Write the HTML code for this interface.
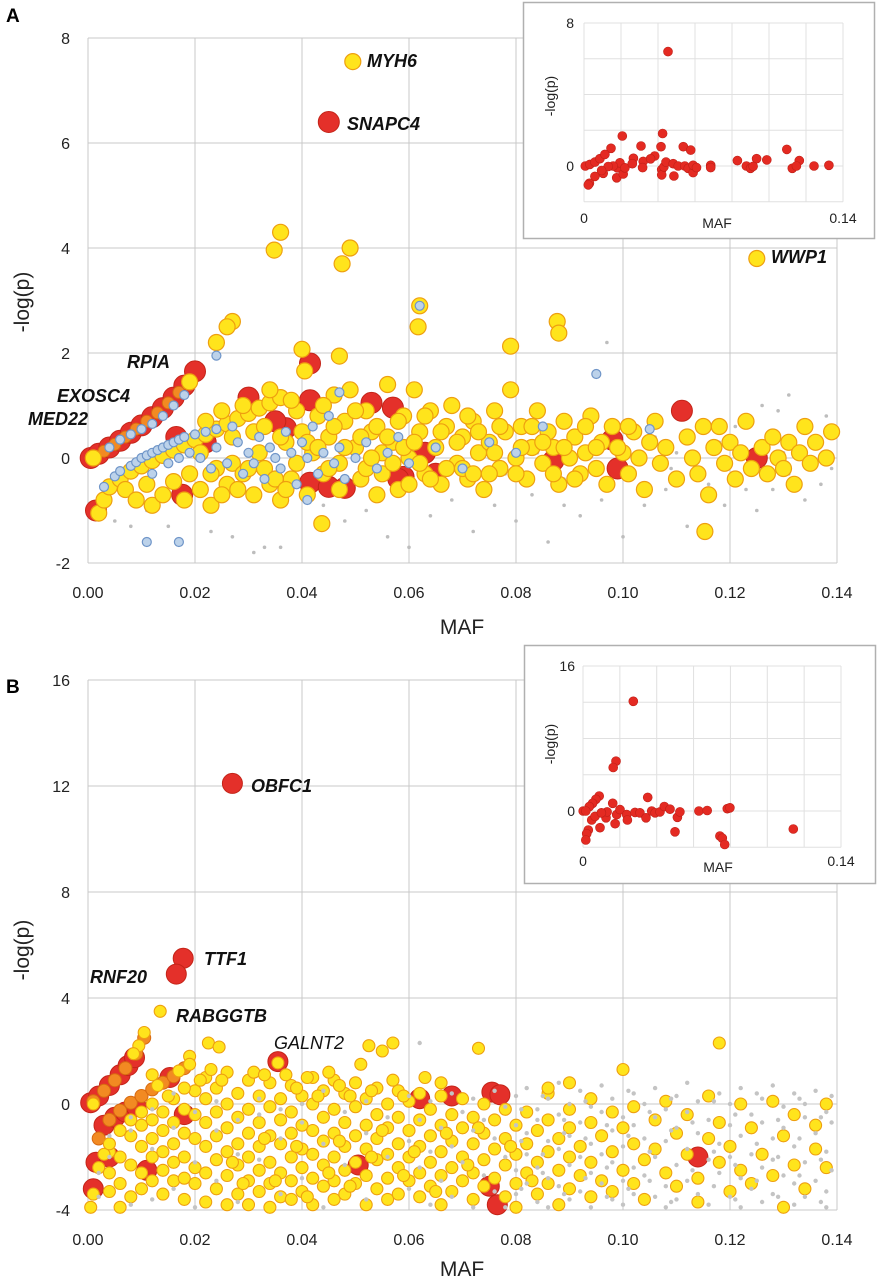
<!DOCTYPE html>
<html><head><meta charset="utf-8">
<style>
html,body{margin:0;padding:0;background:#fff;}
svg{display:block;font-family:"Liberation Sans",sans-serif;}
.tk{font-size:16px;fill:#222;}
.ttl{font-size:21px;fill:#222;}
.itk{font-size:14px;fill:#222;}
.gene{font-size:18px;font-weight:bold;font-style:italic;fill:#111;}
</style></head>
<body>
<svg id="fig" width="879" height="1280" viewBox="0 0 879 1280" xmlns="http://www.w3.org/2000/svg">
<text x="6" y="22" font-size="19" font-weight="bold">A</text>
<text x="6" y="693" font-size="19" font-weight="bold">B</text>
<g id="gA"></g>
<g id="gB"></g>
<g id="gAi"></g>
<g id="gBi"></g>
</svg>
<script>
// ---------- Panel A data ----------
const xTicksMain = ["0.00","0.02","0.04","0.06","0.08","0.10","0.12","0.14"];
const yTicksA = [-2,0,2,4,6,8];
const yTicksB = [-4,0,4,8,12,16];
const grayA = [[0.005,-1.2],[0.008,-1.3],[0.011,-1.0],[0.015,-1.3],[0.019,-0.8],[0.023,-1.4],[0.027,-1.5],[0.031,-1.8],[0.033,-1.7],[0.036,-1.7],[0.040,-0.6],[0.044,-0.9],[0.048,-1.2],[0.052,-1.0],[0.056,-1.5],[0.060,-1.7],[0.064,-1.1],[0.068,-0.8],[0.072,-1.4],[0.076,-0.9],[0.080,-1.2],[0.083,-0.7],[0.086,-1.6],[0.089,-0.9],[0.092,-1.1],[0.096,-0.8],[0.100,-1.5],[0.104,-0.9],[0.108,-0.6],[0.112,-1.3],[0.116,-0.5],[0.119,-0.9],[0.122,-0.4],[0.125,-1.0],[0.128,-0.6],[0.131,-0.3],[0.134,-0.8],[0.137,-0.5],[0.139,-0.2],[0.084,0.1],[0.088,0.3],[0.092,-0.2],[0.098,0.2],[0.102,-0.3],[0.106,0.4],[0.110,0.1],[0.114,-0.2],[0.118,0.3],[0.121,0.6],[0.124,0.0],[0.127,0.4],[0.130,0.1],[0.133,0.6],[0.136,0.2],[0.138,0.8],[0.129,0.9],[0.126,1.0],[0.131,1.2],[0.097,2.2],[0.075,0.0],[0.078,-0.3],[0.089,-0.4],[0.115,0.5],[0.123,-0.6],[0.109,-0.2]];
const redA = [[0.045,6.4],[0.020,1.65],[0.0415,1.8],[0.0415,1.1],[0.0415,-0.47],[0.037,0.57],[0.053,1.05],[0.057,0.96],[0.048,-0.57],[0.059,-0.36],[0.030,1.15],[0.0176,-0.7],[0.0015,-1.0],[0.045,-0.55],[0.058,-0.4],[0.111,0.9],[0.098,0.35],[0.099,-0.2],[0.087,-0.05],[0.125,0.0],[0.065,-0.3],[0.0165,0.4],[0.022,0.3],[0.063,0.1],[0.035,0.7],
 [0.0005,0],[0.002,0.08],[0.004,0.2],[0.006,0.33],[0.008,0.48],[0.010,0.62],[0.012,0.78],[0.014,0.95],[0.016,1.15],[0.018,1.38]];
const orangeA = [[0.001,0.02],[0.003,0.13],[0.005,0.26],[0.007,0.4],[0.009,0.55],[0.011,0.7],[0.013,0.86],[0.015,1.05],[0.017,1.25]];
const yellowA = [[0.0495,7.55],[0.0348,3.96],[0.036,4.3],[0.0475,3.7],[0.049,4.0],[0.062,2.9],[0.0617,2.5],[0.125,3.8],[0.079,2.13],[0.0877,2.6],[0.088,2.38],[0.027,2.6],[0.026,2.5],[0.024,2.2],[0.040,2.07],[0.0405,1.66],[0.047,1.94],[0.0437,-1.25],[0.1153,-1.4],
 [0.001,0.0],[0.019,1.45],
 [0.002,-1.05],[0.003,-0.8],[0.004,-0.55],[0.006,-0.4],[0.008,-0.25],[0.010,-0.15],[0.012,-0.05],[0.014,0.05],[0.016,0.15],[0.018,0.25],[0.020,0.35],[0.022,0.45],[0.024,0.55],[0.026,0.65],[0.028,0.75],[0.030,0.85],[0.032,0.95],[0.034,1.05],[0.036,1.15],
 [0.007,-0.6],[0.009,-0.8],[0.011,-0.5],[0.012,-0.9],[0.014,-0.7],[0.016,-0.45],[0.018,-0.8],[0.019,-0.3],[0.021,-0.6],[0.023,-0.9],[0.024,-0.2],[0.026,-0.5],[0.027,-0.1],[0.029,-0.3],[0.031,-0.7],[0.032,0.1],[0.033,-0.2],[0.034,-0.5],[0.036,-0.8],[0.037,0.3],[0.038,-0.4],[0.039,0.9],[0.040,0.5],[0.042,0.1],[0.043,0.8],[0.044,-0.3],[0.045,0.4],[0.046,1.2],[0.047,-0.1],[0.048,0.7],[0.049,1.3],[0.050,0.2],[0.051,-0.4],[0.052,0.9],[0.053,0.5],[0.054,-0.7],[0.055,0.1],[0.056,1.4],[0.057,0.3],[0.058,-0.6],[0.059,0.8],[0.060,0.0],[0.061,1.3],[0.062,0.5],[0.063,-0.3],[0.064,0.9],[0.065,0.2],[0.066,-0.5],[0.067,0.6],[0.068,1.0],[0.069,-0.1],[0.070,0.4],[0.071,-0.4],[0.072,0.7],[0.073,0.1],[0.074,-0.6],[0.075,0.3],[0.076,0.9],[0.077,-0.2],[0.078,0.5],[0.079,1.3],[0.080,0.0],[0.081,0.6],[0.082,-0.4],[0.083,0.2],[0.084,0.9],[0.085,-0.1],[0.086,0.5],[0.087,0.2],[0.088,-0.5],[0.089,0.7],[0.090,0.0],[0.091,0.4],[0.092,-0.3],[0.093,0.1],[0.094,0.8],[0.095,-0.2],[0.096,0.3],[0.097,-0.5],[0.098,0.6],[0.100,0.1],[0.101,-0.3],[0.102,0.5],[0.103,0.0],[0.104,-0.6],[0.105,0.3],[0.106,0.7],[0.107,-0.1],[0.108,0.2],[0.110,-0.4],[0.112,0.4],[0.113,0.0],[0.114,-0.3],[0.115,0.6],[0.116,-0.7],[0.117,0.2],[0.118,0.6],[0.119,-0.1],[0.120,0.3],[0.121,-0.4],[0.122,0.1],[0.123,0.7],[0.124,-0.2],[0.126,0.2],[0.127,-0.3],[0.128,0.4],[0.129,0.0],[0.130,-0.2],[0.131,0.3],[0.132,-0.5],[0.133,0.1],[0.134,0.6],[0.135,-0.1],[0.136,0.3],[0.138,0.0],[0.139,0.5],
 [0.021,0.1],[0.022,0.7],[0.023,-0.3],[0.025,0.9],[0.025,-0.7],[0.027,0.4],[0.028,-0.6],[0.029,1.0],[0.030,-0.2],[0.031,0.5],[0.033,0.6],[0.034,1.3],[0.035,-0.4],[0.036,0.4],[0.037,-0.6],[0.038,1.1],[0.039,-0.1],[0.041,0.3],[0.041,-0.7],[0.043,0.2],[0.044,1.0],[0.045,-0.2],[0.046,0.6],[0.047,-0.6],[0.048,0.2],[0.050,0.9],[0.051,0.4],[0.052,-0.2],[0.053,0.0],[0.054,0.6],[0.055,-0.3],[0.056,0.4],[0.057,-0.1],[0.058,0.7],[0.059,0.2],[0.060,-0.5],[0.061,0.3],[0.062,-0.1],[0.063,0.8],[0.064,-0.4],[0.066,0.5],[0.067,-0.2],[0.069,0.3],[0.070,-0.2],[0.071,0.8],[0.072,-0.3],[0.073,0.5],[0.075,-0.3],[0.076,0.1],[0.077,0.6],[0.080,-0.3],[0.081,0.2],[0.083,0.6],[0.085,0.3],[0.087,-0.3],[0.089,0.2],[0.091,-0.4],[0.093,0.6],[0.095,0.2],[0.099,0.2],[0.101,0.6]];
const blueA = [[0.003,-0.55],[0.005,-0.35],[0.006,-0.25],[0.008,-0.15],[0.009,-0.08],[0.010,0.0],[0.011,0.05],[0.012,0.1],[0.013,0.15],[0.014,0.2],[0.015,0.25],[0.016,0.3],[0.017,0.35],[0.018,0.4],[0.020,0.45],[0.022,0.5],[0.024,0.55],[0.027,0.6],[0.006,0.35],[0.008,0.45],[0.010,0.55],[0.012,0.65],[0.014,0.8],[0.016,1.0],[0.018,1.2],[0.004,0.2],[0.012,-0.3],[0.015,-0.1],[0.017,0.0],[0.019,0.1],[0.021,0.0],[0.023,-0.2],[0.024,0.2],[0.026,-0.1],[0.028,0.3],[0.029,-0.3],[0.030,0.1],[0.031,-0.1],[0.032,0.4],[0.033,-0.4],[0.034,0.2],[0.035,0.0],[0.036,-0.2],[0.037,0.5],[0.038,0.1],[0.039,-0.5],[0.040,0.3],[0.041,0.0],[0.042,0.6],[0.043,-0.3],[0.044,0.1],[0.045,0.8],[0.046,-0.1],[0.047,0.2],[0.048,-0.4],[0.050,0.0],[0.052,0.3],[0.054,-0.2],[0.056,0.1],[0.058,0.4],[0.060,-0.1],[0.062,2.9],[0.065,0.2],[0.070,-0.2],[0.075,0.3],[0.080,0.1],[0.085,0.6],[0.095,1.6],[0.105,0.55],[0.024,1.95],[0.011,-1.6],[0.017,-1.6],[0.041,-0.8],[0.047,1.25]];
const insetAx = [0.0454,0.0207,0.0425,0.0416,0.0308,0.0146,0.0537,0.0577,0.0382,0.0267,0.1096,0.0933,0.0988,0.0829,0.1164,0.0007,0.0032,0.0059,0.0086,0.0113,0.0104,0.0059,0.0029,0.0023,0.0177,0.0180,0.0194,0.0212,0.0158,0.0131,0.0095,0.0221,0.0261,0.0320,0.0317,0.0360,0.0420,0.0420,0.0432,0.0443,0.0482,0.0486,0.0509,0.0545,0.0563,0.0590,0.0590,0.0608,0.0685,0.0685,0.0878,0.0900,0.0914,0.1126,0.1148,0.1243,0.1324];
const insetAy = [6.4,1.68,1.82,1.08,1.12,0.99,1.08,0.89,0.56,0.43,0.93,0.41,0.34,0.30,0.30,0.0,0.09,0.22,0.41,0.65,-0.41,-0.58,-0.97,-1.06,-0.66,-0.1,0.18,-0.45,0.0,-0.03,-0.25,-0.1,0.13,0.26,-0.09,0.4,-0.2,-0.5,-0.05,0.22,0.13,-0.56,0.0,0.0,-0.13,-0.37,0.04,-0.09,0.04,-0.09,0.0,-0.13,-0.02,-0.13,0.0,0.0,0.04];
// ---------- Panel B data ----------
const redB = [[0.027,12.1],[0.0178,5.5],[0.0165,4.9],[0.0355,1.6],[0.0755,0.45],[0.077,0.35],[0.062,0.2],[0.068,0.3],[0.0505,-2.3],[0.114,-2.0],[0.075,-3.1],[0.0765,-3.8],[0.0015,-2.2],[0.001,-3.2],[0.018,-0.4],[0.0153,1.0],
 [0.0005,0.05],[0.002,0.3],[0.004,0.7],[0.006,1.1],[0.0075,1.45],[0.0087,1.75],[0.003,-0.8],[0.005,-0.5],[0.007,-0.3],[0.009,-0.1],[0.011,-2.5],[0.004,-2.0]];
const orangeB = [[0.001,0.1],[0.003,0.5],[0.005,0.9],[0.007,1.35],[0.009,1.9],[0.0105,2.5],[0.002,-1.3],[0.004,-0.6],[0.006,-0.25],[0.008,0.05],[0.010,0.3],[0.012,0.55],[0.014,0.8],[0.016,1.05],[0.018,1.35]];
const yellowBcols = [[0.004,[-1.8,-2.6,-3.3]],[0.006,[-2.0,-3.0,-3.9]],[0.008,[-1.2,-2.3,-3.5]],[0.010,[-0.8,-1.6,-2.6,-3.2]],[0.012,[-0.6,-1.3,-2.0,-2.9,1.1]],[0.014,[-0.3,-1.0,-1.8,-2.5,-3.4]],[0.016,[0.2,-0.7,-1.5,-2.2,-2.9]],[0.018,[-0.2,-1.1,-2.0,-2.8,-3.6]],[0.020,[0.5,-0.4,-1.3,-2.4,-3.0]],[0.022,[1.0,0.2,-0.7,-1.6,-2.6,-3.7]],[0.024,[0.6,-0.3,-1.2,-2.1,-3.2]],[0.026,[1.2,0.0,-0.9,-1.8,-2.7,-3.8]],[0.028,[0.4,-0.5,-1.5,-2.3,-3.4]],[0.030,[0.9,-0.2,-1.1,-2.0,-2.9,-3.8]],[0.032,[0.3,-0.7,-1.6,-2.5,-3.3]],[0.034,[0.8,-0.1,-1.2,-2.2,-3.0,-3.9]],[0.036,[0.2,-0.6,-1.5,-2.6,-3.5]],[0.038,[0.7,-0.3,-1.1,-2.0,-2.9,-3.6]],[0.040,[0.3,-0.8,-1.7,-2.4,-3.3]],[0.042,[1.0,0.0,-1.0,-1.9,-2.8,-3.8]],[0.044,[0.5,-0.5,-1.4,-2.3,-3.1]],[0.046,[0.9,-0.2,-1.1,-2.0,-2.9,-3.6]],[0.048,[0.4,-0.7,-1.6,-2.5,-3.4]],[0.050,[0.8,-0.1,-1.2,-2.2,-3.0]],[0.052,[0.2,-0.8,-1.7,-2.7,-3.8]],[0.054,[0.6,-0.4,-1.3,-2.1,-3.2]],[0.056,[0.0,-0.9,-1.9,-2.8,-3.6]],[0.058,[0.5,-0.5,-1.5,-2.4,-3.4]],[0.060,[0.1,-1.0,-2.0,-2.9]],[0.062,[0.4,-0.6,-1.6,-2.6,-3.5]],[0.064,[-0.2,-1.2,-2.2,-3.1]],[0.066,[0.3,-0.8,-1.8,-2.7,-3.8]],[0.068,[-0.4,-1.4,-2.4,-3.3]],[0.070,[0.2,-0.9,-2.0,-2.9]],[0.072,[-0.5,-1.5,-2.6,-3.6]],[0.074,[0.0,-1.1,-2.1,-3.1]],[0.076,[-0.6,-1.7,-2.8]],[0.078,[-0.2,-1.3,-2.3,-3.5]],[0.080,[-0.8,-1.9,-3.0,-3.9]],[0.082,[-0.3,-1.5,-2.6]],[0.084,[-1.0,-2.2,-3.4]],[0.086,[0.4,-0.6,-1.8,-3.0]],[0.088,[-1.3,-2.5,-3.8]],[0.090,[-0.2,-0.9,-2.0,-3.2]],[0.092,[-1.6,-2.7]],[0.094,[0.2,-0.7,-2.2,-3.5]],[0.096,[-1.2,-2.9]],[0.098,[-0.3,-1.8,-3.3]],[0.100,[1.3,-0.9,-2.5]],[0.102,[-0.1,-1.5,-3.0]],[0.104,[-2.1,-3.6]],[0.106,[-0.6,-1.7]],[0.108,[0.1,-2.6]],[0.110,[-1.1,-3.1]],[0.112,[-0.4,-1.9]],[0.114,[-2.8,-3.7]],[0.116,[0.3,-1.3]],[0.118,[2.3,-0.7,-2.2]],[0.120,[-1.6,-3.3]],[0.122,[0.0,-2.5]],[0.124,[-0.9,-3.0]],[0.126,[-1.9]],[0.128,[0.1,-2.7]],[0.130,[-1.2,-3.9]],[0.132,[-0.4,-2.3]],[0.134,[-3.2]],[0.136,[-0.8,-1.7]],[0.138,[0.0,-2.4]]];
const yellowBextra = [[0.0135,3.5],[0.0225,2.3],[0.0245,2.15],[0.0355,1.55],[0.019,1.8],[0.023,1.3],[0.025,0.9],[0.031,1.2],[0.033,1.1],[0.037,1.1],[0.039,0.6],[0.041,1.0],[0.043,0.3],[0.045,1.2],[0.047,0.7],[0.049,0.3],[0.051,1.5],[0.0525,2.2],[0.055,2.0],[0.057,2.3],[0.053,0.5],[0.057,0.9],[0.059,0.3],[0.073,2.1],[0.066,0.8],[0.063,1.0],[0.086,0.6],[0.090,0.8],
 [0.0005,-3.9],[0.001,-3.4],[0.002,-2.4],[0.003,-1.9],[0.004,-1.5],[0.006,-1.0],[0.008,-0.6],[0.010,-0.3],[0.012,0.0],[0.015,0.3],[0.018,0.6],[0.021,0.9],[0.0105,2.7],[0.0095,2.2],[0.0085,1.9],[0.001,0.0],[0.017,1.25],[0.019,1.5],[0.013,0.7],
 [0.027,-2.2],[0.029,-3.0],[0.033,-1.3],[0.035,-2.9],[0.039,-1.6],[0.041,-3.5],[0.045,-2.6],[0.047,-1.4],[0.049,-3.1],[0.053,-2.0],[0.055,-1.0],[0.059,-2.7],[0.061,-1.8],[0.065,-3.3],[0.067,-1.1],[0.071,-2.3],[0.073,-0.9],[0.079,-1.6],[0.083,-2.9]];
const grayBcols = [[0.002,[-3.5,-2.6]],[0.004,[-1.2,-2.0]],[0.008,[-0.5,-1.0,-3.8]],[0.012,[-0.2,-1.7,-3.6]],[0.016,[0.4,-0.9,-3.2]],[0.020,[-0.3,-2.2,-3.9]],[0.024,[0.1,-1.0,-2.9]],[0.028,[-0.6,-1.9,-3.7]],[0.032,[0.2,-0.4,-2.1]],[0.036,[-0.2,-1.3,-3.4]],[0.040,[0.0,-0.7,-2.8]],[0.044,[0.5,-1.5,-3.9]],[0.048,[-0.3,-2.3]],[0.052,[0.1,-1.1,-3.6]],[0.056,[-0.5,-2.0]],[0.060,[0.3,-1.4,-3.2]],[0.062,[2.3,-0.6,-2.4]],[0.064,[0.1,-1.8,-3.8]],[0.066,[-0.9,-2.9]],[0.068,[0.4,-1.6,-3.5]],[0.070,[-0.3,-2.2]],[0.072,[0.2,-1.0,-3.9]],[0.074,[-0.6,-2.7]],[0.076,[0.5,-1.3,-3.3]],[0.078,[-0.1,-2.0,-3.9]],[0.080,[0.3,-0.8,-2.5,-3.4]],[0.082,[0.6,-1.1,-1.9,-3.0]],[0.084,[-0.2,-0.6,-2.4,-3.7]],[0.086,[0.2,-1.4,-2.8,-3.9]],[0.088,[0.8,-0.4,-1.7,-3.1]],[0.090,[0.0,-1.2,-2.3,-3.6]],[0.092,[0.5,-0.7,-2.0,-3.3]],[0.094,[-0.1,-1.5,-2.6,-3.9]],[0.096,[0.7,-0.3,-1.9,-3.0]],[0.098,[0.2,-1.0,-2.2,-3.6]],[0.100,[-0.5,-1.6,-2.9,-3.8]],[0.102,[0.4,-0.8,-2.4,-3.4]],[0.104,[0.0,-1.3,-2.7]],[0.106,[0.6,-0.5,-2.0,-3.5]],[0.108,[-0.2,-1.4,-3.1,-3.9]],[0.110,[0.3,-0.9,-2.3,-3.6]],[0.112,[0.8,-0.3,-1.7,-2.9]],[0.114,[0.1,-1.1,-3.4]],[0.116,[-0.6,-2.1,-3.8]],[0.118,[0.4,-1.5,-2.6]],[0.120,[0.0,-0.8,-2.0,-3.5]],[0.122,[0.6,-1.2,-2.8,-3.9]],[0.124,[-0.4,-1.9,-3.2]],[0.126,[0.2,-0.7,-2.4,-3.7]],[0.128,[0.7,-1.3,-2.1,-3.4]],[0.130,[-0.1,-0.9,-2.7]],[0.132,[0.4,-1.6,-3.0,-3.8]],[0.134,[0.0,-0.5,-2.2,-3.5]],[0.136,[0.5,-1.1,-2.9]],[0.138,[-0.3,-1.8,-3.3,-3.9]],[0.139,[0.3,-0.7,-2.5]],
 [0.081,[-0.2,-1.4,-3.2]],[0.085,[0.3,-1.9,-2.6]],[0.089,[-0.6,-1.1,-3.4]],[0.093,[0.1,-1.3,-2.8]],[0.097,[-0.8,-2.4,-3.5]],[0.101,[0.5,-1.2,-3.2]],[0.105,[-0.3,-1.8,-2.9]],[0.109,[0.2,-1.0,-3.7]],[0.113,[-0.7,-2.5]],[0.117,[0.1,-1.8,-3.1]],[0.121,[-0.4,-2.3,-3.6]],[0.125,[0.4,-1.5,-2.9]],[0.129,[-0.6,-2.0,-3.5]],[0.133,[0.2,-1.3,-2.7]],[0.137,[-0.5,-2.1,-3.7]]];
const insetBx = [0.0273,0.0179,0.0164,0.0088,0.0070,0.0052,0.0034,0.0001,0.0015,0.0351,0.0161,0.1141,0.0743,0.0756,0.0769,0.0499,0.0092,0.0029,0.0020,0.0015,0.0047,0.0065,0.0174,0.0125,0.0183,0.0201,0.0237,0.0241,0.0282,0.0309,0.0342,0.0373,0.0391,0.0418,0.0441,0.0472,0.0512,0.0526,0.0629,0.0674,0.0783,0.0797,0.0131,0.0100];
const insetBy = [12.1,5.5,4.8,1.65,1.29,0.85,0.48,0,0,1.5,0.85,-1.99,-2.76,-3.0,-3.7,-2.3,-1.84,-2.1,-2.5,-3.2,-0.99,-0.6,-1.4,-0.75,-0.4,0.15,-0.4,-0.99,-0.15,-0.2,-0.75,0.0,-0.2,-0.1,0.5,0.2,-0.7,-0.1,0.0,0.05,0.25,0.35,-0.1,-0.2];

const NS = "http://www.w3.org/2000/svg";
function el(parent, tag, attrs){ const e=document.createElementNS(NS,tag); for(const k in attrs) e.setAttribute(k,attrs[k]); parent.appendChild(e); return e; }
function makeScale(d0,d1,r0,r1){ return v => r0 + (v-d0)/(d1-d0)*(r1-r0); }

function frame(g, xs, ys, xMax, yMin, yMax, yTicks, xLabels, opt){
  const grid = el(g,'g',{});
  
  
  const nX = xLabels.length;
  for(let i=0;i<nX;i++){
    const v = xMax*i/(nX-1);
    el(grid,'line',{x1:xs(v),x2:xs(v),y1:ys(yMin),y2:ys(yMax),stroke:opt.grid,'stroke-width':opt.gw});
  }
  yTicks.forEach(t=>{ el(grid,'line',{x1:xs(0),x2:xs(xMax),y1:ys(t),y2:ys(t),stroke:opt.grid,'stroke-width':opt.gw}); });
  const yl = el(g,'g',{});
  
  
  yTicks.forEach(t=>{ if(opt.yShow && !opt.yShow.includes(t)) return; const tx=el(yl,'text',{x:opt.yLabX,y:ys(t)+opt.yOff,'text-anchor':'end',class:opt.cls}); tx.textContent=String(t); });
  const xl = el(g,'g',{});
  
  
  xLabels.forEach((lab,i)=>{ if(lab==='') return; const v=xMax*i/(nX-1); const tx=el(xl,'text',{x:xs(v),y:opt.xLabY,'text-anchor':'middle',class:opt.cls}); tx.textContent=lab; });
}
function dots(g, pts, xs, ys, r, fill, stroke, sw, name){
  const grp = el(g,'g',{});
  
  
  pts.forEach(p=>{ const c=el(grp,'circle',{cx:xs(p[0]).toFixed(1),cy:ys(p[1]).toFixed(1),r:r,fill:fill,stroke:stroke,'stroke-width':sw});
    
     });
}
function cols(arr){ const out=[]; arr.forEach(c=>c[1].forEach(y=>out.push([c[0],y]))); return out; }
function zip(xa,ya){ return xa.map((x,i)=>[x,ya[i]]); }
function txt(g,x,y,s,cls,name,extra){ const t=el(g,'text',Object.assign({x:x,y:y,class:cls},extra||{})); t.textContent=s;   return t; }

const YEL='#FFE41C', YELS='#EE9F10', RED='#E4302A', REDS='#C42418', ORG='#F28A22';

(function(){
  const g=document.getElementById('gA');
  const xs=makeScale(0,0.14,88,837), ys=makeScale(0,8,458,38);
  frame(g,xs,ys,0.14,-2,8,yTicksA,xTicksMain,{prefix:'panel-a',grid:'#c9c9c9',gw:1,yLabX:70,yOff:6,xLabY:598,cls:'tk'});
  dots(g,grayA,xs,ys,1.8,'#bdbdbd','none',0,'panel-a-gray-snps');
  dots(g,redA,xs,ys,10.5,RED,REDS,1,'panel-a-red-snps');
  dots(g,orangeA,xs,ys,6,ORG,'#d86a10',1,'panel-a-orange-snps');
  dots(g,yellowA,xs,ys,8,YEL,YELS,1.2,'panel-a-yellow-snps');
  dots(g,blueA,xs,ys,4.5,'#bcd2ea','#6f95c8',1.2,'panel-a-blue-snps');
  txt(g,462,634,'MAF','ttl','panel-a-x-axis-title',{'text-anchor':'middle'});
  txt(g,0,0,'-log(p)','ttl','panel-a-y-axis-title',{'text-anchor':'middle',transform:'translate(29,302) rotate(-90)'});
  txt(g,367,67,'MYH6','gene','label-myh6');
  txt(g,347,130,'SNAPC4','gene','label-snapc4');
  txt(g,771,263,'WWP1','gene','label-wwp1');
  txt(g,127,368,'RPIA','gene','label-rpia');
  txt(g,57,402,'EXOSC4','gene','label-exosc4');
  txt(g,28,425,'MED22','gene','label-med22');
})();
(function(){
  const g=document.getElementById('gB');
  const xs=makeScale(0,0.14,88,837), ys=makeScale(0,16,1104,680);
  frame(g,xs,ys,0.14,-4,16,yTicksB,xTicksMain,{prefix:'panel-b',grid:'#c9c9c9',gw:1,yLabX:70,yOff:6,xLabY:1245,cls:'tk'});
  dots(g,redB,xs,ys,10,RED,REDS,1,'panel-b-red-snps');
  dots(g,orangeB,xs,ys,6.5,ORG,'#d86a10',1,'panel-b-orange-snps');
  dots(g,cols(yellowBcols).concat(yellowBextra),xs,ys,6,YEL,YELS,1.1,'panel-b-yellow-snps');
  dots(g,cols(grayBcols),xs,ys,2.2,'#c4c4c4','none',0,'panel-b-gray-snps');
  txt(g,462,1276,'MAF','ttl','panel-b-x-axis-title',{'text-anchor':'middle'});
  txt(g,0,0,'-log(p)','ttl','panel-b-y-axis-title',{'text-anchor':'middle',transform:'translate(29,950) rotate(-90)'});
  txt(g,251,792,'OBFC1','gene','label-obfc1');
  txt(g,204,965,'TTF1','gene','label-ttf1');
  txt(g,90,983,'RNF20','gene','label-rnf20');
  txt(g,176,1022,'RABGGTB','gene','label-rabggtb');
  txt(g,274,1049,'GALNT2','gene','label-galnt2',{style:'font-weight:normal'});
})();
const insetXLabels = ["0","","","","","","","0.14"];
(function(){
  const g=document.getElementById('gAi');
  el(g,'rect',{x:523.5,y:2.5,width:351,height:236,fill:'#fff',stroke:'#b0b0b0','stroke-width':1.5});
  const xs=makeScale(0,0.14,584,843), ys=makeScale(0,8,166,23);
  frame(g,xs,ys,0.14,-2,8,[-2,0,2,4,6,8],insetXLabels,{prefix:'inset-a',grid:'#e0e0e0',gw:1,yLabX:574,yOff:5,xLabY:223,cls:'itk',yShow:[0,8]});
  dots(g,zip(insetAx,insetAy),xs,ys,4.5,'#E42A22','#c02018',0.6,'inset-a-points');
  txt(g,717,228,'MAF','itk','inset-a-x-axis-title',{'text-anchor':'middle'});
  txt(g,0,0,'-log(p)','itk','inset-a-y-axis-title',{'text-anchor':'middle',transform:'translate(555,96) rotate(-90)'});
})();
(function(){
  const g=document.getElementById('gBi');
  el(g,'rect',{x:524.5,y:645.5,width:351,height:238,fill:'#fff',stroke:'#b0b0b0','stroke-width':1.5});
  const xs=makeScale(0,0.14,583,841), ys=makeScale(0,16,811,666);
  frame(g,xs,ys,0.14,-4,16,[-4,0,4,8,12,16],insetXLabels,{prefix:'inset-b',grid:'#e0e0e0',gw:1,yLabX:575,yOff:5,xLabY:866,cls:'itk',yShow:[0,16]});
  dots(g,zip(insetBx,insetBy),xs,ys,4.5,'#E42A22','#c02018',0.6,'inset-b-points');
  txt(g,718,872,'MAF','itk','inset-b-x-axis-title',{'text-anchor':'middle'});
  txt(g,0,0,'-log(p)','itk','inset-b-y-axis-title',{'text-anchor':'middle',transform:'translate(555,744) rotate(-90)'});
})();
</script>
</body></html>
